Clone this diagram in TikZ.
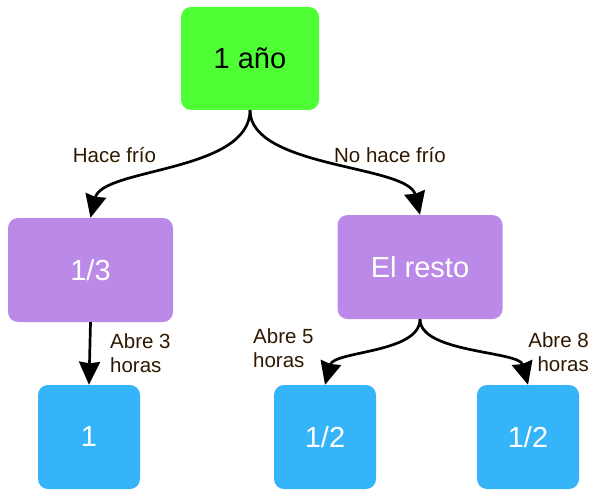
\documentclass[tikz,border=0pt]{standalone}
\usepackage{fontspec}
\setmainfont{Liberation Sans}
\usetikzlibrary{arrows.meta}
\definecolor{cgreen}{HTML}{4EFF36}
\definecolor{cpurple}{HTML}{BB8AE8}
\definecolor{cblue}{HTML}{35B4FA}
\definecolor{clabel}{HTML}{2E1800}
\tikzset{
  box/.style={rectangle, rounded corners=10pt, inner sep=0pt, draw=none,
    font=\fontsize{29}{34}\selectfont},
  topbox/.style={box, fill=cgreen, text=black, minimum width=138pt, minimum height=103pt},
  midbox/.style={box, fill=cpurple, text=white, minimum width=165pt, minimum height=104pt},
  leafbox/.style={box, fill=cblue, text=white, minimum width=102pt, minimum height=104pt},
  arr/.style={line width=2.7pt, -{Stealth[width=21pt,length=23pt,inset=1.5pt]}},
  lbl/.style={text=clabel, inner sep=0pt, font=\fontsize{20.5}{24}\selectfont},
}
\begin{document}
\begin{tikzpicture}[x=1pt,y=-1pt]
\useasboundingbox (0,0) rectangle (599,497);
\node[topbox] (top) at (250,58.5) {1 año};
\node[midbox] (a) at (90.5,270) {1/3};
\node[midbox] (b) at (420,267) {El resto};
\node[leafbox] (a1) at (89,437) {1};
\node[leafbox] (b1) at (325,437) {1/2};
\node[leafbox] (b2) at (528,437) {1/2};
\draw[arr] (top.south) .. controls +(0,62) and +(12,-50) .. (a.north);
\draw[arr] (top.south) .. controls +(0,58) and +(-12,-50) .. (b.north);
\draw[arr] (a.south) -- (a1.north);
\draw[arr] (b.south) .. controls +(0,34) and +(9,-34) .. (b1.north);
\draw[arr] (b.south) .. controls +(0,34) and +(-9,-34) .. (b2.north);
\node[lbl, anchor=base] (l1) at (114.5,163) {Hace frío};
\node[lbl, anchor=base] (l2) at (390,163) {No hace frío};
\node[lbl, anchor=base west, align=left] (l3) at (110,372) {Abre 3\\horas};
\node[lbl, anchor=base west, align=left] (l4) at (253,367) {Abre 5\\horas};
\node[lbl, anchor=base east, align=right] (l5) at (589,371) {Abre 8\\horas};
\end{tikzpicture}
\end{document}
